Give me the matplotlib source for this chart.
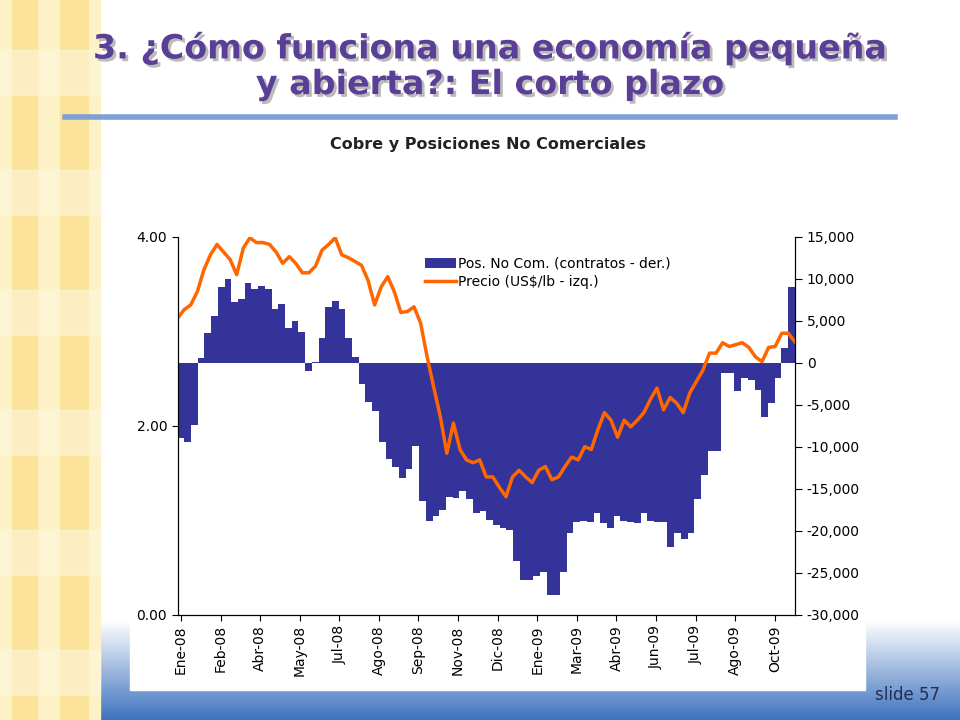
import numpy as np
import matplotlib
matplotlib.use("Agg")
import matplotlib.pyplot as plt
from matplotlib.patches import Rectangle
from matplotlib.ticker import FuncFormatter
import matplotlib.patheffects as pe

# Posiciones no comerciales (contratos), semanal
posiciones = [-8900, -9400, -7400, 600, 3600, 5600, 9000, 10000, 7300, 7600, 9500, 8800,
              9200, 8800, 6400, 7000, 4200, 5000, 3700, -1000, 100, 3000, 6600, 7400,
              6400, 3000, 700, -2500, -4600, -5700, -9400, -11400, -12400, -13700, -12600,
              -9900, -16400, -18800, -18200, -17500, -16000, -16100, -15200, -16200, -17900,
              -17600, -18700, -19300, -19600, -19900, -23600, -25800, -25800, -25400, -24900,
              -27600, -27600, -24900, -20200, -18900, -18800, -19000, -17900, -19100, -19600,
              -18200, -18800, -19000, -19100, -17900, -18800, -19000, -18900, -21900, -20200,
              -21000, -20200, -16200, -13300, -10500, -10500, -1200, -1200, -3400, -1800,
              -2000, -3200, -6400, -4800, -1800, 1800, 9000]

# Precio del cobre (US$/lb)
precio = [3.14, 3.23, 3.28, 3.42, 3.65, 3.81, 3.92, 3.84, 3.76, 3.60, 3.88, 3.99, 3.94, 3.94,
          3.92, 3.84, 3.72, 3.79, 3.72, 3.62, 3.62, 3.69, 3.86, 3.92, 3.99, 3.81, 3.78, 3.74,
          3.70, 3.54, 3.28, 3.47, 3.58, 3.42, 3.20, 3.21, 3.26, 3.09, 2.73, 2.41, 2.10, 1.71,
          2.03, 1.75, 1.64, 1.61, 1.64, 1.46, 1.46, 1.35, 1.25, 1.46, 1.53, 1.46, 1.40, 1.53,
          1.57, 1.43, 1.46, 1.57, 1.67, 1.64, 1.78, 1.75, 1.96, 2.14, 2.06, 1.88, 2.06, 1.99,
          2.06, 2.14, 2.28, 2.40, 2.17, 2.30, 2.24, 2.14, 2.35, 2.47, 2.59, 2.77, 2.77, 2.88,
          2.84, 2.86, 2.88, 2.83, 2.73, 2.68, 2.83, 2.84, 2.98, 2.98, 2.89]

meses = ["Ene-08", "Feb-08", "Abr-08", "May-08", "Jul-08", "Ago-08", "Sep-08", "Nov-08",
         "Dic-08", "Ene-09", "Mar-09", "Abr-09", "Jun-09", "Jul-09", "Ago-09", "Oct-09"]

fig = plt.figure(figsize=(9.6, 7.2), dpi=100)

# fondo de la diapositiva
bg = fig.add_axes([0, 0, 1, 1], zorder=-10)
bg.set_xlim(0, 960); bg.set_ylim(720, 0); bg.axis("off")
bg.add_patch(Rectangle((0, 0), 100, 720, color="#FDF2C6"))
for x0, w in [(12, 25), (60, 28)]:
    bg.add_patch(Rectangle((x0, 0), w, 720, color="#FBE39A"))
for y0 in range(50, 720, 120):
    bg.add_patch(Rectangle((0, y0), 100, 45, color="#FEF7DC", alpha=0.6))
grad = np.linspace(0, 1, 100).reshape(-1, 1)
bg.imshow(grad, extent=(100, 960, 720, 620), cmap=matplotlib.colors.LinearSegmentedColormap.from_list(
    "g", ["#FFFFFF", "#3E73BE"]), aspect="auto")
bg.add_patch(Rectangle((130, 160), 735, 530, color="white"))
bg.plot([65, 895], [117, 117], color="#7F9FD8", lw=4)
bg.text(490, 66, "3. ¿Cómo funciona una economía pequeña\ny abierta?: El corto plazo",
        ha="center", va="center", fontsize=24, fontweight="bold", color="#5B3E96",
        linespacing=1.1,
        path_effects=[pe.withSimplePatchShadow(offset=(2, -2), shadow_rgbFace="#BBBBBB", alpha=1)])
bg.text(488, 145, "Cobre y Posiciones No Comerciales", ha="center", va="center",
        fontsize=11.5, fontweight="bold", color="#222222")
bg.text(940, 695, "slide 57", ha="right", va="center", fontsize=12, color="#1F2F4F")

# gráfico
ax = fig.add_axes([0.185, 0.146, 0.643, 0.525])
ax2 = ax.twinx()
ax.set_zorder(ax2.get_zorder() + 1)
ax.patch.set_visible(False)

n = len(posiciones)
xb = np.arange(n)
ax2.bar(xb, posiciones, width=1.0, color="#333399", label="Pos. No Com. (contratos - der.)")
ax2.set_ylim(-30000, 15000)
ax2.set_yticks(np.arange(-30000, 15001, 5000))
ax2.yaxis.set_major_formatter(FuncFormatter(lambda v, p: f"{int(v):,}"))

xp = np.linspace(-0.5, n - 0.5, len(precio))
ax.plot(xp, precio, color="#FF6600", lw=2.5, label="Precio (US$/lb - izq.)")
ax.set_ylim(0, 4)
ax.set_yticks([0, 2, 4])
ax.yaxis.set_major_formatter(FuncFormatter(lambda v, p: f"{v:.2f}"))
ax.set_xlim(-0.5, n - 0.5)
ax.set_xticks(np.arange(len(meses)) * 5.9)
ax.set_xticklabels(meses, rotation=90, fontsize=10)

for a in (ax, ax2):
    a.spines["top"].set_visible(False)
    a.tick_params(labelsize=10, direction="out", length=4)
ax2.tick_params(axis="y", length=5)

h1, l1 = ax2.get_legend_handles_labels()
h2, l2 = ax.get_legend_handles_labels()
ax.legend(h1 + h2, l1 + l2, loc="upper center", bbox_to_anchor=(0.6, 0.98), frameon=False,
          fontsize=10, handlelength=2.2, handletextpad=0.2, labelspacing=0.3)

fig.savefig("out.png", dpi=100)
